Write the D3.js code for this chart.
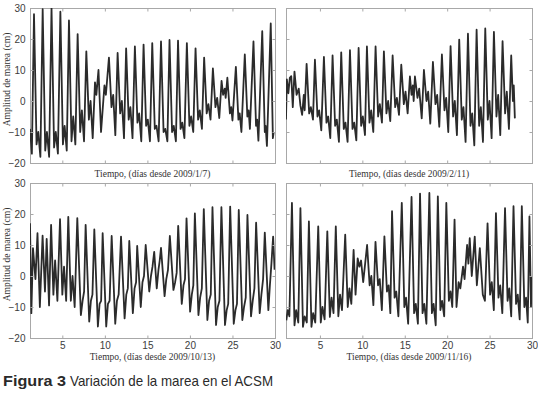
<!DOCTYPE html>
<html lang='es'>
  <head>
    <meta charset='utf-8'>
    <title>Variación de la marea en el ACSM</title>
    <script src='https://cdn.jsdelivr.net/npm/d3@7/dist/d3.min.js'></script>
    <style>
      body { margin: 0; background: #fff; }
    </style>
  </head>
  <body>
    <script>

      // [day, amplitude cm] (highs, shoulders, lows)
      var tideA = [[1.2,-9],[1.42,-17],
        [1.67,28],[1.97,-14],[2.17,-10],[2.42,-18],
        [2.69,29.6],[2.99,-16],[3.19,-10],[3.45,-18],
        [3.73,30],[4.03,-15],[4.23,-10],[4.48,-17],
        [4.77,28.8],[5.07,-14],[5.27,-8],[5.52,-16],
        [5.78,26],[6.08,-13],[6.28,-5],[6.53,-14],
        [6.8,21.6],[7.1,-10],[7.3,-3],[7.55,-13],
        [7.82,16],[8.12,-6],[8.32,0],[8.57,-12],
        [8.84,6],[9.0,2],[9.25,10],[9.55,-10],[9.95,5],[10.12,2],
        [10.48,14],[10.78,-2],[10.98,2],[11.23,-11],
        [11.5,15.5],[11.8,-4],[12.0,0],[12.25,-12],
        [12.5,17],[12.8,-6],[13.0,-2],[13.25,-12],
        [13.53,17.6],[13.83,-7],[14.03,-4],[14.28,-13],
        [14.55,18.2],[14.85,-8],[15.05,-6],[15.3,-13],
        [15.57,18.7],[15.87,-9],[16.07,-8],[16.32,-13],
        [16.6,19.2],[16.9,-10],[17.1,-9],[17.35,-13],
        [17.6,19.7],[17.9,-10],[18.1,-8],[18.35,-13],
        [18.6,19.5],[18.9,-9],[19.1,-7],[19.35,-12],
        [19.64,18.7],[19.94,-8],[20.14,-5],[20.39,-10],
        [20.66,17],[20.96,-6],[21.16,-3],[21.41,-9],
        [21.67,14],[21.97,-4],[22.17,-1],[22.42,-6],
        [22.7,10.5],[23.0,-2],[23.2,1],[23.45,-5.5],
        [23.72,6.5],[23.9,2],[24.1,4],[24.2,1],
        [24.4,7.5],[24.7,-4],[24.85,-2],[25.0,-6.3],
        [25.4,11],[25.7,-6],[25.85,-4],[26.05,-10],
        [26.45,15],[26.75,-5],[26.9,-3],[27.05,-9],
        [27.47,19.2],[27.77,-8],[27.9,-6],[28.05,-12.8],
        [28.5,22.5],[28.8,-10],[28.9,-8],[29.05,-14.5],
        [29.5,25],[29.75,-12],[29.85,-10]];

      var tideB = [[1.0,-6],[1.1,7],[1.28,2.5],[1.45,7.5],[1.62,8],[1.8,-2],[2.0,9.5],
        [2.25,2],[2.5,4],[2.7,-1.5],[2.9,-4.5],[3.1,2],[3.2,-3],
        [3.43,12],[3.73,-4],[3.93,-2],[4.18,-6],
        [4.41,13.3],[4.71,-5],[4.91,-3],[5.16,-9.5],
        [5.47,14.2],[5.77,-7],[5.97,-5],[6.22,-12],
        [6.49,14.7],[6.79,-8],[6.99,-6],[7.24,-13.2],
        [7.51,15.7],[7.81,-9],[8.01,-7],[8.26,-13.2],
        [8.54,16.4],[8.84,-9],[9.04,-7],[9.29,-12.7],
        [9.56,17.1],[9.86,-8],[10.06,-5],[10.31,-11],
        [10.54,17.6],[10.84,-7],[11.04,-3],[11.29,-10],
        [11.56,17.6],[11.86,-5],[12.06,-1],[12.31,-7],
        [12.54,16],[12.84,-4],[13.04,0],[13.29,-6.5],
        [13.57,14.7],[13.87,-2],[14.07,1],[14.32,-4.5],
        [14.59,11.7],[14.89,-1],[15.09,3],[15.34,-4],
        [15.61,7.9],[15.8,2],[15.95,5],[16.05,0],
        [16.2,7.9],[16.5,1],[16.7,4],[17.0,-5.6],
        [17.26,10],[17.56,0],[17.76,3],[18.01,-7.3],
        [18.32,12.6],[18.62,-1],[18.82,2],[19.07,-8.3],
        [19.38,15],[19.68,-3],[19.88,1],[20.13,-10],
        [20.4,17.7],[20.7,-5],[20.9,0],[21.15,-11],
        [21.42,19.8],[21.72,-6],[21.92,-2],[22.17,-13.2],
        [22.45,21.7],[22.75,-8],[22.95,-4],[23.2,-14.3],
        [23.47,23],[23.77,-8],[23.97,-2],[24.22,-13.2],
        [24.49,23.4],[24.79,-6],[24.99,0],[25.24,-12],
        [25.51,22.3],[25.81,-5],[26.01,2],[26.26,-11],
        [26.53,19.3],[26.83,-4],[27.03,3],[27.28,-9],
        [27.55,14.7],[27.75,0],[27.85,5],[27.98,-5.6]];

      var tideC = [[1.2,17],[1.36,-12],[1.55,9],[1.84,-1],[2.08,13.8],[2.36,-10],
        [2.68,13],[2.96,-5],[3.16,12],[3.44,-9.5],
        [3.68,16.5],[3.95,-6],[4.15,5],[4.42,-8],
        [4.73,18.3],[5.0,-6],[5.2,3],[5.45,-8],
        [5.7,19.1],[6.0,-8],[6.2,0],[6.45,-10],
        [6.76,18.7],[7.18,-12.6],[7.38,-8],[7.56,-5],
        [7.74,16.5],[8.16,-14.7],[8.36,-8],[8.54,-6],
        [8.76,15],[9.18,-16.3],[9.38,-9],[9.56,-8],
        [9.74,13.8],[10.16,-16.3],[10.36,-9],[10.56,-8],
        [10.8,12.9],[11.22,-15.4],[11.42,-8],[11.62,-6],
        [11.9,12.7],[12.32,-13.7],[12.52,-6],[12.7,-4],
        [12.87,11.3],[13.29,-12],[13.49,-4],[13.67,-2],
        [13.8,9.7],[14.22,-10],[14.42,-2],[14.6,0],
        [14.8,10],[15.22,-5],[15.42,0],[15.6,3],
        [15.8,7.8],[16.1,-4],[16.3,2],[16.45,5],
        [16.6,9.1],[17.02,-6.5],[17.22,-1],[17.42,2],
        [17.64,12.9],[18.06,-4.5],[18.26,-2],[18.44,1],
        [18.62,16.2],[19.04,-9],[19.24,-3],[19.42,-1],
        [19.6,18.6],[20.02,-11.5],[20.22,-6],[20.4,-3],
        [20.58,20.2],[21.0,-12.6],[21.2,-7],[21.4,-4],
        [21.63,21.6],[22.05,-14.2],[22.25,-8],[22.45,-6],
        [22.65,22.2],[23.07,-15.8],[23.27,-10],[23.47,-8],
        [23.7,22.2],[24.12,-15.8],[24.32,-11],[24.5,-9],
        [24.73,22.4],[25.15,-15.4],[25.35,-11],[25.53,-9],
        [25.74,21.3],[26.16,-14.2],[26.36,-10],[26.56,-7],
        [26.76,19.7],[27.18,-13],[27.38,-8],[27.58,-4],
        [27.78,17.2],[28.2,-12],[28.4,-6],[28.6,-1],
        [28.8,14],[29.22,-11],[29.4,-3],[29.58,4],
        [29.78,12.7],[29.95,2]];

      var tideD = [[1.04,-14.3],[1.2,-11],[1.4,-13],
        [1.7,23.6],[2.0,-15.9],[2.2,-11],[2.45,-15],
        [2.7,21.9],[3.0,-16.4],[3.2,-13],[3.45,-15],
        [3.7,17.6],[4.0,-16.4],[4.2,-12],[4.45,-15],
        [4.8,16],[5.1,-15],[5.3,-10],[5.55,-14],
        [5.87,14.4],[6.17,-13.2],[6.37,-7],[6.6,-12],
        [6.87,16],[7.17,-13],[7.37,-6],[7.6,-11],
        [7.98,13.3],[8.28,-10],[8.48,-4],[8.7,-9],
        [8.97,8.4],[9.2,-6],[9.45,5.7],[9.65,3],[9.85,5],[10.1,-2],
        [10.56,10],[10.86,-3],[11.06,0],[11.3,-9.4],
        [11.55,11],[11.85,-3],[12.05,-1],[12.3,-11],
        [12.6,12.8],[12.9,-5],[13.1,-3],[13.3,-12],
        [13.5,20.9],[13.8,-7],[14.0,-5],[14.25,-13],
        [14.65,23.6],[14.95,-10],[15.15,-7],[15.4,-15.4],
        [15.8,25.5],[16.1,-12],[16.3,-9],[16.55,-15.4],
        [16.8,26.6],[17.1,-12],[17.3,-9],[17.55,-15.4],
        [17.9,26.8],[18.2,-12],[18.4,-9],[18.65,-15.9],
        [18.9,25.7],[19.2,-11],[19.4,-8],[19.65,-13],
        [19.9,23.6],[20.2,-8],[20.4,-5],[20.6,-10],
        [20.87,18.2],[21.1,-10],[21.35,-2],[21.55,-4],
        [21.87,3],[22.05,-1],[22.35,10],[22.5,4],[22.66,12.2],[22.9,0],
        [23.25,12.7],[23.5,-3],[23.85,9],[24.2,-6],[24.45,-8],
        [24.76,17],[25.06,-6],[25.26,-2],[25.5,-11],
        [25.75,20.3],[26.05,-7],[26.25,-3],[26.5,-12],
        [26.82,21.9],[27.12,-8],[27.32,-4],[27.55,-13],
        [27.82,22.5],[28.12,-9],[28.32,-6],[28.55,-14],
        [28.8,22.5],[29.1,-10],[29.3,-7],[29.5,-15],
        [29.7,19.2],[29.88,-10],[30,0]];

      var xTicks = [5, 10, 15, 20, 25, 30];
      var yTicks = [-20, -10, 0, 10, 20, 30];
      var xTitles = ['Tiempo, (días desde 2009/1/7)',
                     'Tiempo, (días desde 2009/2/11)',
                     'Tiempo, (días desde 2009/10/13)',
                     'Tiempo, (días desde 2009/11/16)'];
      var yTitle = 'Amplitud de marea (cm)';

      var w = 538;
      var h = 395;
      var frameCol = '#a8a8a8';
      var lineCol = '#2b2b2b';

      var svg = d3.select('body')
                  .append('svg')
                  .attr('width', w)
                  .attr('height', h);

      var panels = [
        {data: tideA, title: xTitles[0], x0: 30,  x1: 275, y0: 8,   y1: 163, d0: 1.2, left: true,  labels: false},
        {data: tideB, title: xTitles[1], x0: 286, x1: 532, y0: 8,   y1: 163, d0: 1.0, left: false, labels: false},
        {data: tideC, title: xTitles[2], x0: 30,  x1: 275, y0: 183, y1: 338, d0: 1.2, left: true,  labels: true},
        {data: tideD, title: xTitles[3], x0: 286, x1: 532, y0: 183, y1: 338, d0: 1.0, left: false, labels: true}
      ];

      panels.forEach(function(p, i){
        var x = d3.scaleLinear().domain([p.d0, 30]).range([p.x0, p.x1]);
        var y = d3.scaleLinear().domain([-20, 30]).range([p.y1, p.y0]);
        var g = svg.append('g');

        g.append('clipPath').attr('id', 'clip' + i)
         .append('rect')
         .attr('x', p.x0).attr('y', p.y0)
         .attr('width', p.x1 - p.x0).attr('height', p.y1 - p.y0);

        g.append('rect')
         .attr('x', p.x0 + 0.5).attr('y', p.y0 + 0.5)
         .attr('width', p.x1 - p.x0).attr('height', p.y1 - p.y0)
         .attr('fill', 'none')
         .attr('stroke', frameCol)
         .attr('stroke-width', 1);

        var line = d3.line()
                     .x(function(d){ return x(d[0]); })
                     .y(function(d){ return y(d[1]); });

        g.append('path')
         .datum(p.data)
         .attr('clip-path', 'url(#clip' + i + ')')
         .attr('d', line)
         .attr('fill', 'none')
         .attr('stroke', lineCol)
         .attr('stroke-width', 1.8)
         .attr('stroke-linejoin', 'round');

        // inward ticks on all four sides, matlab style
        var axB = d3.axisBottom(x).tickValues(xTicks).tickSize(-3).tickPadding(3);
        if (!p.labels) axB.tickFormat('');
        var gb = g.append('g').attr('transform', 'translate(0,' + (p.y1 + 0.5) + ')').call(axB);

        var gt = g.append('g').attr('transform', 'translate(0,' + (p.y0 + 0.5) + ')')
                  .call(d3.axisTop(x).tickValues(xTicks.slice(0, 5)).tickSize(-3).tickFormat(''));

        var axL = d3.axisLeft(y).tickValues(yTicks).tickSize(-3).tickPadding(5);
        if (!p.left) axL.tickFormat('');
        var gl = g.append('g').attr('transform', 'translate(' + (p.x0 + 0.5) + ',0)').call(axL);

        var gr = g.append('g').attr('transform', 'translate(' + (p.x1 + 0.5) + ',0)')
                  .call(d3.axisRight(y).tickValues(yTicks.slice(1, 5)).tickSize(-3).tickFormat(''));

        [gb, gt, gl, gr].forEach(function(a){
          a.select('.domain').remove();
          a.selectAll('line').attr('stroke', frameCol);
          a.selectAll('text')
           .attr('fill', '#3c3c3c')
           .attr('font-family', 'Liberation Sans, Arial, sans-serif')
           .attr('font-size', '10px');
        });
        gb.selectAll('.tick').filter(function(d){ return d === 30; }).select('line').remove();

        g.append('text')
         .text(p.title)
         .attr('x', (p.x0 + p.x1) / 2)
         .attr('y', p.labels ? p.y1 + 22 : p.y1 + 14)
         .attr('text-anchor', 'middle')
         .attr('font-family', 'Liberation Serif, Times New Roman, serif')
         .attr('font-size', '9.5px')
         .attr('fill', '#333');

        if (p.left) {
          g.append('text')
           .text(yTitle)
           .attr('transform', 'translate(10,' + ((p.y0 + p.y1) / 2 - 6) + ') rotate(-90)')
           .attr('text-anchor', 'middle')
           .attr('font-family', 'Liberation Serif, Times New Roman, serif')
           .attr('font-size', '9.5px')
           .attr('fill', '#333');
        }
      });

      svg.append('text')
         .text('Figura 3')
         .attr('x', 3)
         .attr('y', 386)
         .attr('textLength', 63)
         .attr('lengthAdjust', 'spacingAndGlyphs')
         .attr('fill', '#2a2a2a')
         .attr('font-family', 'Liberation Sans, Arial, sans-serif')
         .attr('font-weight', 'bold')
         .attr('font-size', '15px');
      svg.append('text')
         .text('Variación de la marea en el ACSM')
         .attr('x', 70)
         .attr('y', 386)
         .attr('textLength', 203)
         .attr('lengthAdjust', 'spacingAndGlyphs')
         .attr('fill', '#2a2a2a')
         .attr('font-family', 'Liberation Sans Narrow, Arial Narrow, Liberation Sans, sans-serif')
         .attr('font-size', '15px');

    </script>
  </body>
</html>
